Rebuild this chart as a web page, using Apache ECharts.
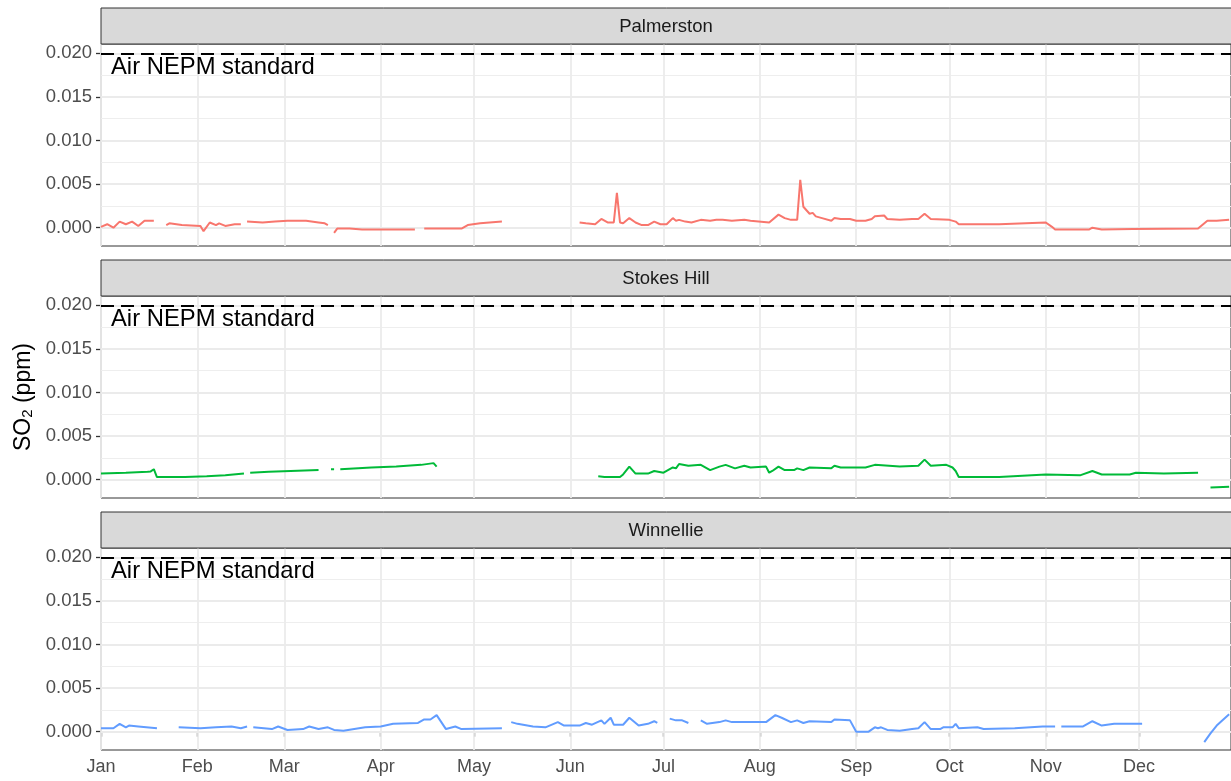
<!DOCTYPE html>
<html>
<head>
<meta charset="utf-8">
<script src="https://cdn.jsdelivr.net/npm/echarts@6/dist/echarts.min.js"></script>
<style>html,body{margin:0;padding:0;background:#fff;}#chart{width:1231px;height:781px;}</style>
</head>
<body>
<div id="chart"></div>
<script>
// ---- data (day-of-year offsets from 1 Jan; null = gap) ----
const sites = ['Palmerston', 'Stokes Hill', 'Winnellie'];
const siteColors = ['#F8766D', '#00BA38', '#619CFF'];
const monthLabels = ['Jan','Feb','Mar','Apr','May','Jun','Jul','Aug','Sep','Oct','Nov','Dec'];
const yTicks = [0, 0.005, 0.010, 0.015, 0.020];
const yMinor = [0.0025, 0.0075, 0.0125, 0.0175];
const standardValue = 0.020;
const standardLabel = 'Air NEPM standard';

const palmDays = [0,2,4,6,8,10,12,14,17,18,21,22,26,32,33,35,37,38,40,43,45,46,47,52,56,60,66,70,72,73,74,75,76,80,84,101,102,104,116,118,122,129,130,154,156,159,161,163,165,166,167,168,170,172,174,176,178,180,182,184,185,186,188,190,193,196,198,200,203,207,209,215,218,220,222,224,225,226,228,229,230,232,235,236,238,241,243,246,248,249,252,253,257,261,263,265,267,273,275,276,289,304,306,307,318,319,322,332,353,356,359,363];
const palmVals = [0.0001,0.0004,0.0000,0.0007,0.0004,0.0007,0.0002,0.0008,0.0008,null,0.0003,0.0005,0.0003,0.0002,-0.0004,0.0006,0.0003,0.0005,0.0002,0.0004,0.0004,null,0.0007,0.0006,0.0007,0.0008,0.0008,0.0006,0.0005,0.0003,null,-0.0006,-0.0001,-0.0001,-0.0002,-0.0002,null,-0.0001,-0.0001,0.0003,0.0005,0.0007,null,0.0006,0.0005,0.0004,0.0010,0.0006,0.0006,0.0040,0.0006,0.0005,0.0011,0.0006,0.0003,0.0003,0.0007,0.0004,0.0004,0.0011,0.0008,0.0009,0.0007,0.0006,0.0009,0.0008,0.0009,0.0009,0.0008,0.0009,0.0008,0.0006,0.0015,0.0011,0.0009,0.0009,0.0055,0.0024,0.0016,0.0017,0.0013,0.0011,0.0008,0.0011,0.0010,0.0010,0.0008,0.0008,0.0010,0.0013,0.0014,0.0010,0.0009,0.0010,0.0010,0.0016,0.0010,0.0009,0.0007,0.0004,0.0004,0.0006,0.0001,-0.0002,-0.0002,0.0000,-0.0002,-0.00015,-0.0001,0.0008,0.0008,0.0009];

const stokesDays = [0,8,15,16,17,18,27,34,40,46,47,48,54,61,70,71,74,75,76,77,87,95,103,107,108,109,160,162,167,168,170,172,176,178,181,184,185,186,189,193,196,199,201,204,207,209,214,215,216,218,220,223,224,226,228,235,236,238,246,249,257,263,265,267,272,274,275,276,289,304,315,319,322,331,333,342,353,354,357,363];
const stokesVals = [0.0007,0.0008,0.0009,0.00095,0.0012,0.0003,0.0003,0.0004,0.0005,0.0007,null,0.0008,0.0009,0.0010,0.0011,null,0.0012,0.0012,null,0.0012,0.0014,0.0015,0.0017,0.0019,0.0015,null,0.0004,0.0003,0.0003,0.0006,0.0015,0.0007,0.0007,0.0010,0.0008,0.0014,0.0013,0.0018,0.0016,0.0017,0.0011,0.0015,0.0017,0.0013,0.0016,0.0014,0.0015,0.0008,0.0010,0.0015,0.0011,0.0011,0.0013,0.0011,0.0014,0.0013,0.0016,0.0014,0.0014,0.0017,0.0015,0.0016,0.0023,0.0016,0.0017,0.0014,0.0010,0.0003,0.0003,0.0006,0.0005,0.0010,0.0006,0.0006,0.0008,0.0007,0.0008,null,-0.0009,-0.0008];

const winDays = [0,4,6,8,9,12,18,19,25,32,37,42,45,47,48,49,55,57,60,65,67,70,73,75,78,85,90,94,102,104,106,108,111,114,116,129,130,132,134,139,143,147,149,154,156,158,161,162,164,165,168,170,173,176,178,179,180,183,185,187,189,190,193,195,199,201,203,214,217,219,222,224,226,228,235,236,241,243,247,249,250,251,253,257,261,263,265,267,270,271,274,275,276,282,284,294,303,307,308,309,316,319,322,326,335,336,355,357,359,363];
const winVals = [0.0004,0.0004,0.0009,0.0005,0.0007,0.0006,0.0004,null,0.0005,0.0004,0.0005,0.0006,0.0004,0.0006,null,0.0005,0.0003,0.0006,0.0002,0.0003,0.0006,0.0003,0.0005,0.0002,0.0001,0.0005,0.0006,0.0009,0.0010,0.0014,0.0014,0.0019,0.0003,0.0006,0.0003,0.0004,null,0.0011,0.0009,0.0006,0.0005,0.0011,0.0007,0.0007,0.0010,0.0008,0.0013,0.0009,0.0016,0.0008,0.0008,0.0016,0.0007,0.0009,0.0012,0.0010,null,0.0015,0.0013,0.0013,0.0010,null,0.0013,0.0009,0.0011,0.0013,0.0011,0.0011,0.0019,0.0016,0.0011,0.0013,0.0010,0.0012,0.0011,0.0014,0.0013,0.0000,0.0000,0.0005,0.0004,0.0005,0.0002,0.0001,0.0003,0.0004,0.0011,0.0003,0.0003,0.0005,0.0005,0.0009,0.0004,0.0005,0.0003,0.0004,0.0006,0.0006,null,0.0006,0.0006,0.0012,0.0007,0.0009,0.0009,null,-0.0012,-0.0002,0.0007,0.0020];

// ---- build ----
const DAY = 86400000;
const T0 = Date.UTC(2019, 0, 1);
const monthStarts = monthLabels.map((m, i) => Date.UTC(2019, i, 1));
const seriesDays = [palmDays, stokesDays, winDays];
const seriesVals = [palmVals, stokesVals, winVals];
function toPairs(days, vals) {
  return days.map((d, i) => [T0 + d * DAY, vals[i] === null ? '-' : vals[i]]);
}

const FONT = 'Liberation Sans, Arial, sans-serif';
const panelTops = [44, 296, 548];
const panelH = 202;
const gridLeft = 101;
const gridW = 1132;
const xMax = T0 + 363.6 * DAY;
const yMin = -0.0021, yMax = 0.02107;

const grids = [], xAxes = [], yAxes = [], series = [], graphics = [];

panelTops.forEach((top, i) => {
  const isBottom = i === panelTops.length - 1;
  grids.push({left: gridLeft, top: top, width: gridW, height: panelH, show: true,
    borderColor: '#333333', borderWidth: 1, backgroundColor: '#ffffff', containLabel: false});
  xAxes.push({type: 'value', gridIndex: i, min: T0, max: xMax, scale: true,
    axisLine: {show: false},
    axisTick: {show: isBottom, length: 5, lineStyle: {color: '#333333', width: 1.3}, customValues: monthStarts},
    axisLabel: {show: isBottom, customValues: monthStarts, margin: 8, color: '#4D4D4D', fontSize: 18, fontFamily: FONT,
      formatter: (v) => monthLabels[new Date(v).getUTCMonth()]},
    splitLine: {show: false}});
  yAxes.push({type: 'value', gridIndex: i, min: yMin, max: yMax,
    axisLine: {show: false},
    axisTick: {show: true, length: 5, lineStyle: {color: '#333333', width: 1.3}, customValues: yTicks},
    axisLabel: {show: true, customValues: yTicks, margin: 9, color: '#4D4D4D', fontSize: 18.5, fontFamily: FONT,
      formatter: (v) => v.toFixed(3)},
    splitLine: {show: false}});

  const gridLines = [];
  yMinor.forEach(v => gridLines.push({yAxis: v, lineStyle: {color: '#EEEEEE', width: 1.1, type: 'solid'}}));
  yTicks.forEach(v => gridLines.push({yAxis: v, lineStyle: {color: '#EBEBEB', width: 1.8, type: 'solid'}}));
  monthStarts.forEach(v => gridLines.push({xAxis: v, lineStyle: {color: '#EBEBEB', width: 1.8, type: 'solid'}}));
  series.push({type: 'line', name: 'grid' + i, xAxisIndex: i, yAxisIndex: i, data: [], silent: true, z: 1,
    markLine: {silent: true, symbol: 'none', animation: false, z: 1, precision: 10, label: {show: false},
      emphasis: {disabled: true}, data: gridLines}});

  series.push({type: 'line', name: sites[i], xAxisIndex: i, yAxisIndex: i, z: 5,
    data: toPairs(seriesDays[i], seriesVals[i]), showSymbol: false, symbol: 'none',
    connectNulls: false, lineStyle: {color: siteColors[i], width: 2}, itemStyle: {color: siteColors[i]},
    emphasis: {disabled: true}, animation: false});

  series.push({type: 'line', name: 'std' + i, xAxisIndex: i, yAxisIndex: i, data: [], silent: true, z: 6,
    markLine: {silent: true, symbol: 'none', animation: false, z: 6, precision: 10, label: {show: false},
      emphasis: {disabled: true},
      data: [{yAxis: standardValue, lineStyle: {color: '#000000', width: 1.8, type: [13, 7]}}]}});

  // strip
  graphics.push({type: 'rect', shape: {x: gridLeft, y: top - 36, width: gridW + 5, height: 36},
    style: {fill: '#D9D9D9', stroke: '#333333', lineWidth: 1}, z: 10, silent: true});
  graphics.push({type: 'text', x: 666, y: top - 17.5, z: 11, silent: true,
    style: {text: sites[i], fill: '#1A1A1A', fontSize: 18.5, fontFamily: FONT, align: 'center', verticalAlign: 'middle'}});
  // annotation
  graphics.push({type: 'text', x: 111, y: top + 23, z: 11, silent: true,
    style: {text: standardLabel, fill: '#000000', fontSize: 23.8, fontFamily: FONT, align: 'left', verticalAlign: 'middle'}});
});

graphics.push({type: 'text', x: 21, y: 397, rotation: Math.PI / 2, z: 11, silent: true,
  style: {text: '{a|SO}{b|2}{a| (ppm)}', align: 'center', verticalAlign: 'middle',
    rich: {a: {fontSize: 23, fontFamily: FONT, fill: '#000000', lineHeight: 28, verticalAlign: 'bottom'},
           b: {fontSize: 15, fontFamily: FONT, fill: '#000000', lineHeight: 21, verticalAlign: 'bottom'}}}});

const chart = echarts.init(document.getElementById('chart'), null, {renderer: 'canvas'});
chart.setOption({
  animation: false,
  backgroundColor: '#ffffff',
  grid: grids, xAxis: xAxes, yAxis: yAxes, series: series, graphic: graphics
});
</script>
</body>
</html>
